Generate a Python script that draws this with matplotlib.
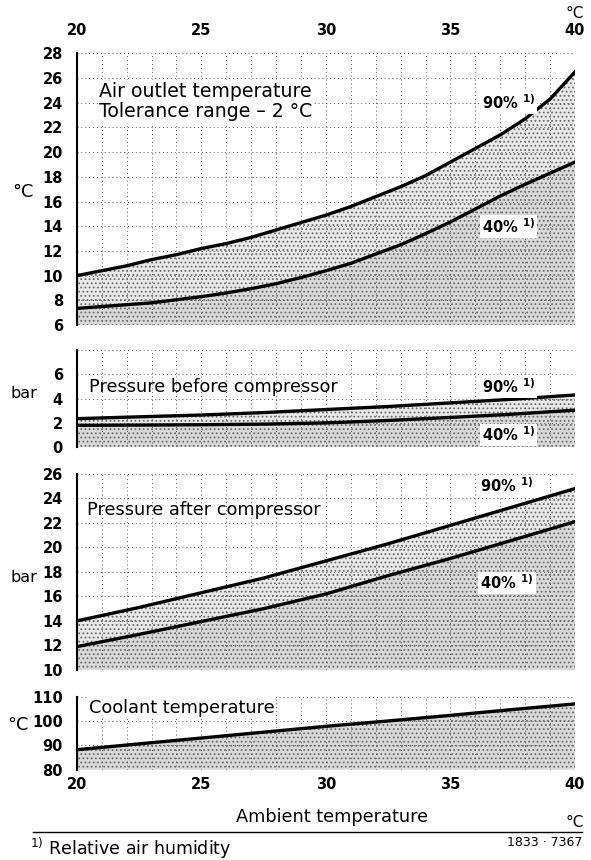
import numpy as np
import matplotlib
matplotlib.use('Agg')
import matplotlib.pyplot as plt

plt.rcParams['font.family'] = ['DejaVu Sans']
plt.rcParams['hatch.color'] = '#6a6a6a'
plt.rcParams['hatch.linewidth'] = 0.8

# Ambient temperature (deg C)
x_air = list(range(20, 41))
air_90 = [10.0, 10.4, 10.8, 11.3, 11.7, 12.2, 12.6, 13.1, 13.7, 14.3, 14.9,
          15.6, 16.4, 17.2, 18.1, 19.2, 20.3, 21.4, 22.7, 24.3, 26.5]
air_40 = [7.35, 7.5, 7.65, 7.8, 8.05, 8.3, 8.6, 8.95, 9.35, 9.85, 10.4,
          11.0, 11.75, 12.5, 13.4, 14.35, 15.4, 16.45, 17.4, 18.3, 19.2]

x_p = [20, 22.5, 25, 27.5, 30, 32.5, 35, 37.5, 40]
pre_90 = [2.35, 2.5, 2.65, 2.85, 3.1, 3.35, 3.65, 3.95, 4.3]
pre_40 = [1.8, 1.82, 1.85, 1.9, 2.0, 2.2, 2.45, 2.72, 3.05]
post_90 = [14.0, 15.1, 16.3, 17.5, 18.9, 20.3, 21.8, 23.3, 24.8]
post_40 = [11.9, 12.9, 13.95, 15.0, 16.2, 17.7, 19.1, 20.6, 22.1]
coolant = [88.2, 90.6, 93.0, 95.4, 97.8, 100.0, 102.3, 104.7, 107.0]

fig = plt.figure(figsize=(5.91, 8.60), dpi=100)

L, W = 0.130, 0.843
boxes = [(0.622, 0.316), (0.480, 0.113), (0.221, 0.228), (0.105, 0.085)]
axes = [fig.add_axes([L, b, W, h]) for b, h in boxes]

band_kw = dict(facecolor='#e9e9e9', hatch='....', edgecolor='#6a6a6a', linewidth=0)
low_kw = dict(facecolor='#d9d9d9', hatch='....', edgecolor='#6a6a6a', linewidth=0)
TXT = 12.8


def style(ax, ymin, ymax, step, labels=None):
    ax.set_xlim(20, 40)
    ax.set_ylim(ymin, ymax)
    ax.set_xticks(range(20, 41, 5))
    ax.set_xticks(range(20, 41), minor=True)
    ticks = np.arange(ymin, ymax + step / 2, step)
    ax.set_yticks(ticks)
    if labels is not None:
        ax.set_yticklabels(labels)
    ax.grid(True, which='both', axis='x', color='#555555', linestyle=(0, (1, 3)), linewidth=0.7)
    ax.grid(True, which='major', axis='y', color='#555555', linestyle=(0, (1, 3)), linewidth=0.7)
    for s in ['top', 'right', 'bottom']:
        ax.spines[s].set_visible(False)
    ax.spines['left'].set_linewidth(1.5)
    ax.tick_params(axis='both', which='both', length=0, labelsize=10.5, pad=10)
    ax.tick_params(axis='x', labelbottom=False)
    for t in ax.get_yticklabels():
        t.set_fontweight('bold')


def two_curves(ax, x, hi, lo, ymin):
    ax.fill_between(x, ymin, lo, zorder=1, **low_kw)
    ax.fill_between(x, lo, hi, zorder=1, **band_kw)
    ax.plot(x, hi, color='black', lw=2.4, zorder=3)
    ax.plot(x, lo, color='black', lw=2.4, zorder=3)


def pct(ax, x, y, txt):
    ax.text(x, y, txt + r' $^{\mathregular{1)}}$', fontsize=10.5, fontweight='bold',
            ha='left', va='center', zorder=4,
            bbox=dict(facecolor='white', edgecolor='none', pad=1.5))


# Air outlet temperature
ax = axes[0]
style(ax, 6, 28, 2)
two_curves(ax, x_air, air_90, air_40, 6)
ax.tick_params(axis='x', labeltop=True, pad=11)
for t in ax.get_xticklabels():
    t.set_fontweight('bold')
ax.text(20.9, 24.1, 'Air outlet temperature\nTolerance range \u2013 2 \u00b0C',
        fontsize=13.6, va='center', linespacing=1.1, zorder=4,
        bbox=dict(facecolor='white', edgecolor='none', pad=1))
pct(ax, 36.25, 24.0, '90%')
pct(ax, 36.25, 14.0, '40%')
ax.set_ylabel('\u00b0C', fontsize=TXT, rotation=0, va='center', ha='center')
ax.yaxis.set_label_coords(-0.108, 0.49)
ax.text(40, 1.147, '\u00b0C', transform=ax.get_xaxis_transform(), ha='center',
        va='center', fontsize=11)

# Pressure before compressor
ax = axes[1]
style(ax, 0, 8, 2, ['0', '2', '4', '6', ''])
two_curves(ax, x_p, pre_90, pre_40, 0)
ax.text(20.5, 4.95, 'Pressure before compressor', fontsize=TXT, va='center', zorder=4)
pct(ax, 36.25, 4.95, '90%')
pct(ax, 36.25, 1.0, '40%')
ax.set_ylabel('bar', fontsize=11.5, rotation=0, va='center', ha='center')
ax.yaxis.set_label_coords(-0.106, 0.557)

# Pressure after compressor
ax = axes[2]
style(ax, 10, 26, 2)
two_curves(ax, x_p, post_90, post_40, 10)
ax.text(20.4, 23.06, 'Pressure after compressor', fontsize=TXT, va='center', zorder=4)
pct(ax, 36.2, 25.0, '90%')
pct(ax, 36.2, 17.1, '40%')
ax.set_ylabel('bar', fontsize=11.5, rotation=0, va='center', ha='center')
ax.yaxis.set_label_coords(-0.106, 0.469)

# Coolant temperature
ax = axes[3]
style(ax, 80, 110, 10)
ax.fill_between(x_p, 80, coolant, zorder=1, **low_kw)
ax.plot(x_p, coolant, color='black', lw=2.4, zorder=3)
ax.text(20.5, 105.5, 'Coolant temperature', fontsize=TXT, va='center', zorder=4,
        bbox=dict(facecolor='white', edgecolor='none', pad=1))
ax.tick_params(axis='x', labelbottom=True, pad=5)
for t in ax.get_xticklabels():
    t.set_fontweight('bold')
ax.set_ylabel('\u00b0C', fontsize=TXT, rotation=0, va='center', ha='center')
ax.yaxis.set_label_coords(-0.118, 0.616)

# Footer
fig.text(0.562, 0.050, 'Ambient temperature', fontsize=TXT, ha='center', va='center')
fig.text(0.973, 0.044, '\u00b0C', fontsize=11, ha='center', va='center')
fig.add_artist(plt.Line2D([0.056, 0.985], [0.033, 0.033], color='black', lw=1.0))
fig.text(0.05, 0.013, r'$^{\mathregular{1)}}$ Relative air humidity', fontsize=12.5,
         ha='left', va='center')
fig.text(0.985, 0.020, '1833 \u00b7 7367', fontsize=9, ha='right', va='center')

fig.savefig('out.png', dpi=100)
